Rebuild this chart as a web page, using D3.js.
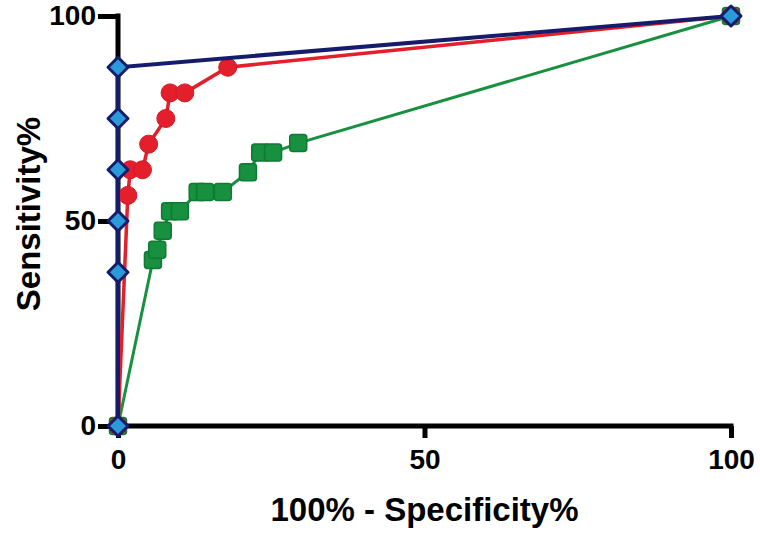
<!DOCTYPE html>
<html>
<head>
<meta charset="utf-8">
<script src="https://cdn.jsdelivr.net/npm/d3@7"></script>
<style>
  body { margin: 0; background: #fff; }
  text { font-family: "Liberation Sans", Arial, sans-serif; font-weight: bold; }
</style>
</head>
<body>
<script>
// ROC curves, values (x = 100% - specificity, y = sensitivity)
const greenX = [0, 5.7, 6.4, 7.3, 8.5, 10.1, 13, 14.2, 17.1, 21.2, 23.2, 25.3, 29.4, 100]
const greenY = [0, 40.5, 43, 47.6, 52.4, 52.4, 57.1, 57.1, 57.1, 61.9, 66.7, 66.7, 69, 100]
const redX = [0, 1.6, 2, 4, 5, 7.8, 8.5, 10.9, 17.9, 100]
const redY = [0, 56.25, 62.5, 62.5, 68.75, 75, 81.25, 81.25, 87.5, 100]
const blueX = [0, 0, 0, 0, 0, 0, 100]
const blueY = [0, 37.5, 50, 62.5, 75, 87.5, 100]
const tickValues = [0, 50, 100]

const width = 760, height = 535

const svg = d3.select('body')
  .append('svg')
  .attr('width', width)
  .attr('height', height)

const x = d3.scaleLinear().domain([0, 100]).range([118, 731])
const y = d3.scaleLinear().domain([0, 100]).range([426, 16])

// axes
const xAxis = svg.append('g')
  .attr('transform', 'translate(0,' + y(0) + ')')
  .call(d3.axisBottom(x).tickValues(tickValues).tickSize(12).tickPadding(11))
const yAxis = svg.append('g')
  .attr('transform', 'translate(' + x(0) + ',0)')
  .call(d3.axisLeft(y).tickValues(tickValues).tickSize(20).tickPadding(2))

;[xAxis, yAxis].forEach(a => {
  a.select('.domain').attr('stroke', '#000').attr('stroke-width', 5)
  a.selectAll('.tick line').attr('stroke', '#000').attr('stroke-width', 5)
  a.selectAll('.tick text').attr('fill', '#000').style('font-size', '28px')
})
xAxis.select('.domain').attr('d', 'M' + (x(0) - 2.5) + ',0H' + (x(100) + 2.5))
yAxis.select('.domain').attr('d', 'M0,' + (y(0) + 2.5) + 'V' + (y(100) - 2.5))

// axis titles
svg.append('text')
  .attr('x', x(50))
  .attr('y', 521)
  .attr('text-anchor', 'middle')
  .style('font-size', '33px')
  .text('100% - Specificity%')

svg.append('text')
  .attr('transform', 'translate(40,214)rotate(-90)')
  .attr('text-anchor', 'middle')
  .style('font-size', '33px')
  .text('Sensitivity%')

const pts = (xs, ys) => xs.map((v, i) => [v, ys[i]])
const line = d3.line().x(d => x(d[0])).y(d => y(d[1]))

// green series (squares)
const green = pts(greenX, greenY)
svg.append('path').datum(green).attr('d', line)
  .attr('fill', 'none').attr('stroke', '#17903f').attr('stroke-width', 3)
svg.append('g').selectAll('rect').data(green).enter().append('rect')
  .attr('x', d => x(d[0]) - 8.5)
  .attr('y', d => y(d[1]) - 8.5)
  .attr('width', 17).attr('height', 17)
  .attr('rx', 3)
  .attr('fill', '#17903f').attr('stroke', '#0f7a33').attr('stroke-width', 1.5)

// red series (circles)
const red = pts(redX, redY)
svg.append('path').datum(red).attr('d', line)
  .attr('fill', 'none').attr('stroke', '#e31f2b').attr('stroke-width', 3.5)
svg.append('g').selectAll('circle').data(red).enter().append('circle')
  .attr('cx', d => x(d[0]))
  .attr('cy', d => y(d[1]))
  .attr('r', 9)
  .attr('fill', '#e31f2b').attr('stroke', '#d21a26').attr('stroke-width', 1)

// blue series (diamonds)
const blue = pts(blueX, blueY)
svg.append('path').datum(blue).attr('d', line)
  .attr('fill', 'none').attr('stroke', '#151d6b').attr('stroke-width', 4)
svg.append('g').selectAll('path').data(blue).enter().append('path')
  .attr('d', d => {
    let cx = x(d[0]), cy = y(d[1]), r = 10
    return 'M' + cx + ',' + (cy - r) + 'L' + (cx + r) + ',' + cy + 'L' + cx + ',' + (cy + r) + 'L' + (cx - r) + ',' + cy + 'Z'
  })
  .attr('fill', '#2a9ad8').attr('stroke', '#151d6b').attr('stroke-width', 3)
  .attr('stroke-linejoin', 'round')
</script>
</body>
</html>
